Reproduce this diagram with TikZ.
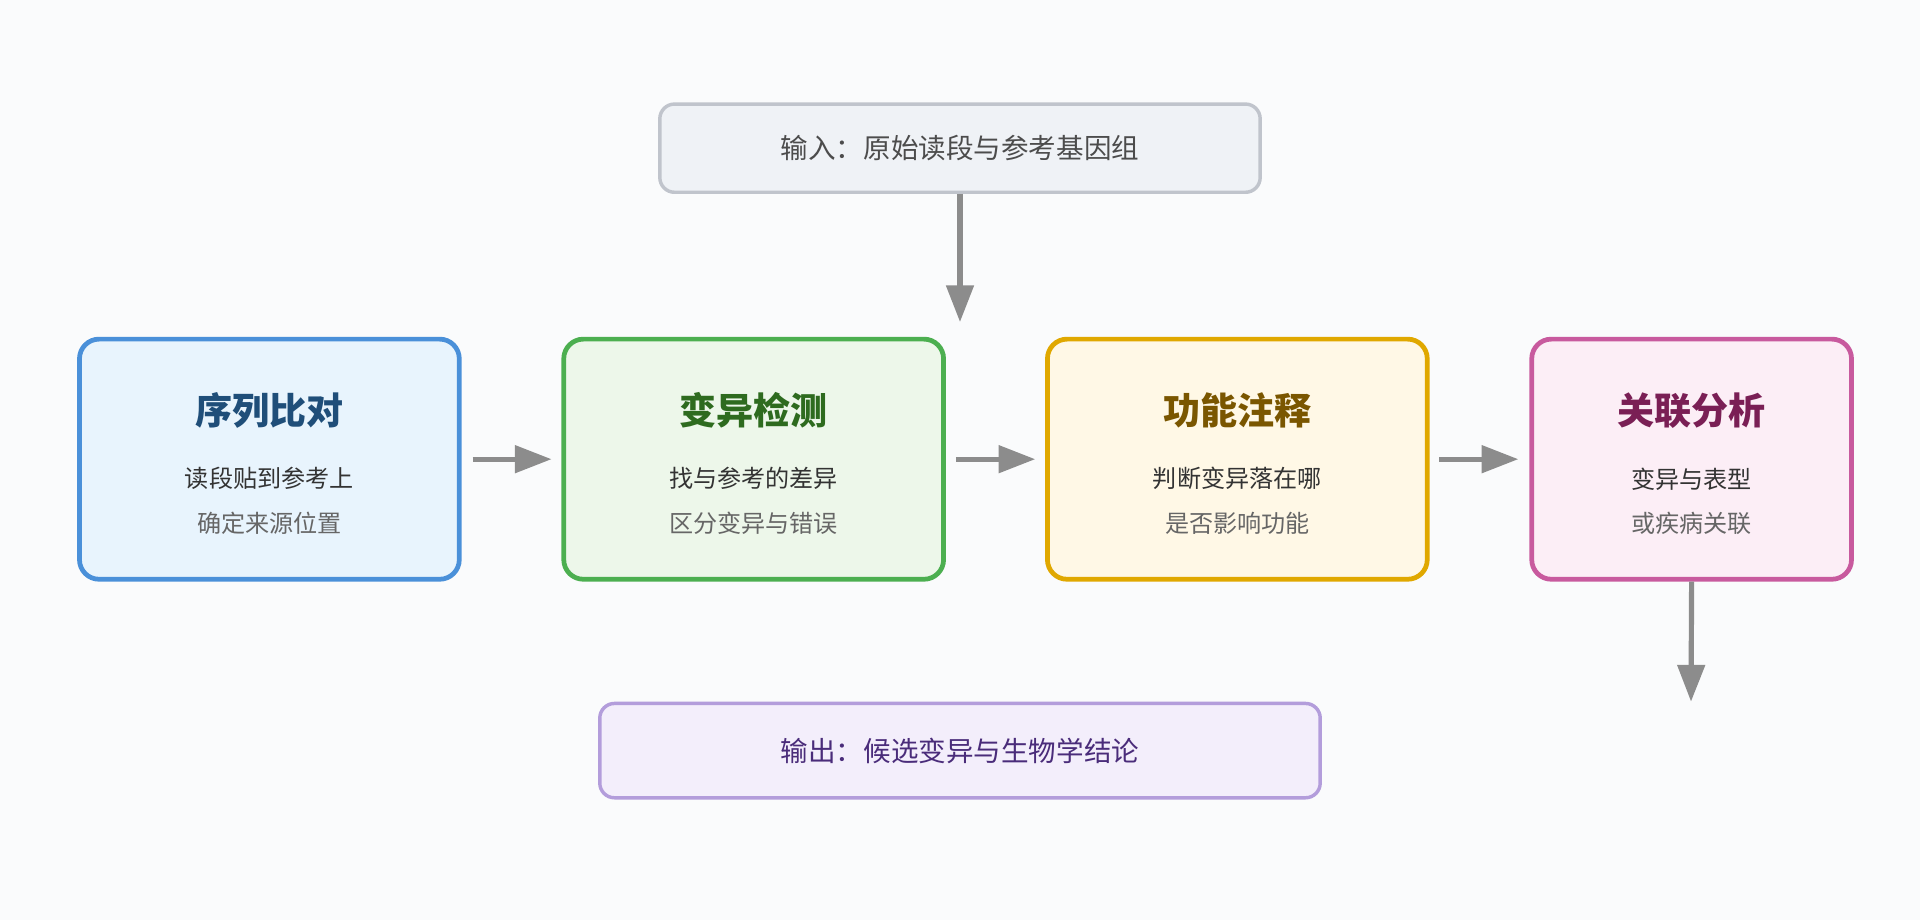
\documentclass[tikz,border=0pt]{standalone}
\usepackage{fontspec}
\setmainfont{Noto Sans CJK SC}
\usetikzlibrary{arrows.meta}
\definecolor{bgc}{HTML}{FAFBFC}
\definecolor{arrc}{HTML}{8C8C8C}
\definecolor{inf}{HTML}{EFF2F6}\definecolor{ind}{HTML}{C0C4CC}
\definecolor{af}{HTML}{E8F4FD}\definecolor{ad}{HTML}{4A90D9}\definecolor{at}{HTML}{1F4E79}
\definecolor{bf}{HTML}{EDF7EA}\definecolor{bd}{HTML}{4CAF50}\definecolor{bt}{HTML}{2E6B1F}
\definecolor{cf}{HTML}{FFF8E6}\definecolor{cd}{HTML}{E0A800}\definecolor{ct}{HTML}{7A5600}
\definecolor{df}{HTML}{FCEEF6}\definecolor{dd}{HTML}{C85A9E}\definecolor{dt}{HTML}{7A1F55}
\definecolor{of}{HTML}{F3EEFB}\definecolor{od}{HTML}{B39DDB}\definecolor{ot}{HTML}{4A2C7A}
\tikzset{
  stage/.style={draw, line width=1.1pt, rounded corners=0.16cm, minimum width=3.1cm, minimum height=1.96cm},
  io/.style={draw, line width=0.8pt, rounded corners=0.12cm, font=\fontsize{6.4}{8}\selectfont},
  ttl/.style={font=\bfseries\fontsize{8.6}{10}\selectfont},
  ln/.style={font=\fontsize{5.6}{7}\selectfont},
  arr/.style={draw=arrc, line width=1.2pt, -{Triangle[length=0.3cm,width=0.22cm]}}
}
\begin{document}
\begin{tikzpicture}[x=0.01cm, y=-0.01cm]
  \fill[bgc] (0,0) rectangle (1568,751);
  % input and output
  \node[io, fill=inf, draw=ind, text=black!70, minimum width=4.9cm, minimum height=0.72cm] (inp) at (784,121) {输入：原始读段与参考基因组};
  \node[io, fill=of, draw=od, text=ot, minimum width=5.88cm, minimum height=0.77cm] (out) at (784,613) {输出：候选变异与生物学结论};
  % stages
  \node[stage, fill=af, draw=ad] (align) at (220,375) {};
  \node[stage, fill=bf, draw=bd] (call) at (615.5,375) {};
  \node[stage, fill=cf, draw=cd] (annot) at (1010.5,375) {};
  \node[stage, fill=df, draw=dd, minimum width=2.61cm] (assoc) at (1381.5,375) {};
  \foreach \n/\t/\a/\b/\c in {align/序列比对/读段贴到参考上/确定来源位置/at,
                              call/变异检测/找与参考的差异/区分变异与错误/bt,
                              annot/功能注释/判断变异落在哪/是否影响功能/ct,
                              assoc/关联分析/变异与表型/或疾病关联/dt}{
    \node[ttl, text=\c] at ([yshift=0.4cm]\n.center) {\t};
    \node[ln, text=black!80] at ([yshift=-0.16cm]\n.center) {\a};
    \node[ln, text=black!60] at ([yshift=-0.52cm]\n.center) {\b};
  }
  % connectors
  \coordinate (inend) at (784,263);
  \coordinate (outend) at (1381,573);
  \draw[arr] (inp.south) -- (inend);
  \draw[arr] ([xshift=0.09cm]align.east) -- ([xshift=-0.08cm]call.west);
  \draw[arr] ([xshift=0.08cm]call.east) -- ([xshift=-0.08cm]annot.west);
  \draw[arr] ([xshift=0.08cm]annot.east) -- ([xshift=-0.09cm]assoc.west);
  \draw[arr] (assoc.south) -- (outend);
\end{tikzpicture}
\end{document}
